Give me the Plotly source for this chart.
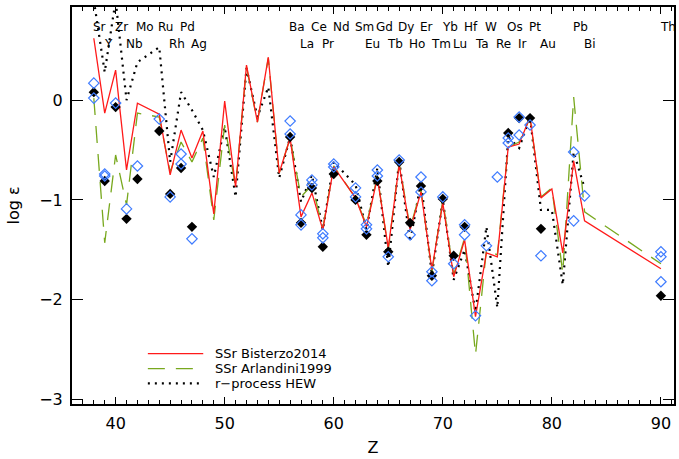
import plotly.graph_objects as go

# ---- data ----
Z_model = [38, 39, 40, 41, 42, 44, 45, 46, 47, 48, 49, 50, 51, 52, 53, 54, 55, 56, 57, 58,
           59, 60, 62, 63, 64, 65, 66, 67, 68, 69, 70, 71, 72, 73, 74, 75, 76, 77, 78, 79,
           80, 81, 82, 83, 90]
bisterzo2014 = [0.62, -0.13, 0.30, -0.70, -0.03, -0.14, -0.75, -0.30, -0.58, -0.31, -1.14, -0.01,
                -0.87, 0.35, -0.22, 0.43, -0.73, -0.38, -1.17, -0.93, -1.30, -0.67, -0.98, -1.27,
                -0.78, -1.48, -0.65, -1.30, -0.92, -1.70, -1.03, -1.77, -1.40, -2.17, -1.53, -1.57,
                -0.47, -0.44, -0.17, -0.98, -0.89, -1.53, -0.61, -1.21, -1.69]
arlandini1999 = [0.02, -1.43, -0.55, -1.05, -0.13, -0.17, -0.72, -0.42, -0.62, -0.38, -1.20, -0.25,
                 -0.87, 0.33, -0.22, 0.42, -0.73, -0.38, -0.97, -0.85, -1.28, -0.66, -0.98, -1.25,
                 -0.76, -1.50, -0.63, -1.28, -0.90, -1.72, -1.00, -1.75, -1.38, -2.55, -1.50, -1.55,
                 -0.47, -0.42, -0.18, -0.97, -0.88, -1.73, 0.03, -1.12, -1.64]

Z_hew = [38, 39, 40, 41, 42, 44, 45, 46, 47, 48, 49, 50, 51, 52, 53, 54, 55, 56, 57, 58,
         59, 60, 62, 63, 64, 65, 66, 67, 68, 69, 70, 71, 72, 73, 74, 75, 76, 77, 78, 79,
         80, 81, 82, 83]
hew = [1.0, 0.28, 1.0, 0.0, 0.38, 0.53, -0.62, 0.08, -0.10, -0.30, -0.77, -0.27, -0.97, 0.32,
       -0.17, 0.13, -0.78, -0.37, -1.02, -0.75, -1.30, -0.62, -0.85, -1.30, -0.68, -1.67, -0.60,
       -1.42, -0.82, -1.75, -1.00, -1.80, -1.50, -2.12, -1.27, -2.08, -0.37, -0.48, -0.17, -1.10,
       -1.10, -1.85, -0.52, -0.88]

Z_black = [38, 39, 40, 41, 42, 44, 45, 46, 47, 56, 57, 58, 59, 60, 62, 63, 64, 65, 66, 67,
           68, 69, 70, 71, 72, 76, 77, 78, 79, 90]
black_obs = [0.08, -0.81, -0.07, -1.19, -0.79, -0.31, -0.94, -0.68, -1.27, -0.37, -1.23, -0.88,
             -1.47, -0.74, -1.00, -1.35, -0.81, -1.52, -0.62, -1.23, -0.86, -1.76, -0.99, -1.56,
             -1.27, -0.33, -0.18, -0.18, -1.29, -1.96]

Z_blue = [38, 38, 39, 39, 40, 41, 42, 44, 45, 46, 46, 47, 56, 56, 57, 57, 58, 58, 59, 59,
          60, 60, 62, 62, 63, 63, 64, 64, 65, 66, 67, 68, 68, 69, 69, 70, 71, 72, 72, 73,
          74, 75, 76, 76, 77, 77, 78, 79, 82, 82, 83, 90, 90, 90]
blue_obs = [0.17, 0.02, -0.74, -0.76, -0.03, -1.09, -0.66, -0.19, -0.97, -0.54, -0.64, -1.39,
            -0.21, -0.34, -1.15, -1.25, -0.80, -0.85, -1.34, -1.38, -0.64, -0.67, -0.88, -0.97,
            -1.25, -1.29, -0.70, -0.76, -1.57, -0.60, -1.35, -0.77, -0.92, -1.72, -1.81, -0.97,
            -1.64, -1.25, -1.35, -2.16, -1.46, -0.77, -0.38, -0.43, -0.35, -0.17, -0.25, -1.56,
            -0.52, -1.21, -0.96, -1.52, -1.57, -1.82]

row1_names = ["Sr", "Zr", "Mo", "Ru", "Pd", "Ba", "Ce", "Nd", "Sm", "Gd", "Dy", "Er", "Yb",
              "Hf", "W", "Os", "Pt", "Pb", "Th"]
row1_Z = [38, 40, 42, 44, 46, 56, 58, 60, 62, 64, 66, 68, 70, 72, 74, 76, 78, 82, 90]
row2_names = ["Y", "Nb", "Rh", "Ag", "La", "Pr", "Eu", "Tb", "Ho", "Tm", "Lu", "Ta", "Re",
              "Ir", "Au", "Bi"]
row2_Z = [39, 41, 45, 47, 57, 59, 63, 65, 67, 69, 71, 73, 75, 77, 79, 83]

legend_names = ["SSr Bisterzo2014", "SSr Arlandini1999", "r\u2212process HEW"]

RED = "#ff1a1a"
GREEN = "#78a81e"
BLUE = "#3f7cff"
FONT = "DejaVu Sans"

red_line = dict(color=RED, width=1.3)
green_line = dict(color=GREEN, width=1.3, dash="17px,11px")
dot_line = dict(color="black", width=2.2, dash="2px,5px")

fig = go.Figure()
fig.add_trace(go.Scatter(x=Z_hew, y=hew, mode="lines", line=dot_line, showlegend=False))
fig.add_trace(go.Scatter(x=Z_model, y=arlandini1999, mode="lines", line=green_line, showlegend=False))
fig.add_trace(go.Scatter(x=Z_model, y=bisterzo2014, mode="lines", line=red_line, showlegend=False))
fig.add_trace(go.Scatter(x=Z_black, y=black_obs, mode="markers", showlegend=False,
                         marker=dict(symbol="diamond", size=8, color="black",
                                     line=dict(width=0))))
fig.add_trace(go.Scatter(x=Z_blue, y=blue_obs, mode="markers", showlegend=False,
                         marker=dict(symbol="diamond-open", size=8, color=BLUE,
                                     line=dict(width=1.2, color=BLUE))))

annotations = []
for name, z in zip(row1_names, row1_Z):
    annotations.append(dict(x=z, y=0.95, xref="x", yref="paper", text=name, showarrow=False,
                            xanchor="left", yanchor="middle", xshift=-3,
                            font=dict(family=FONT, size=12, color="black")))
for name, z in zip(row2_names, row2_Z):
    annotations.append(dict(x=z, y=0.907, xref="x", yref="paper", text=name, showarrow=False,
                            xanchor="left", yanchor="middle", xshift=-3,
                            font=dict(family=FONT, size=12, color="black")))

# legend drawn as lines + text in the lower-left
leg_y = [0.127, 0.089, 0.052]
leg_styles = [red_line, green_line, dot_line]
shapes = []
for name, yy, st in zip(legend_names, leg_y, leg_styles):
    shapes.append(dict(type="line", xref="paper", yref="paper", x0=0.126, x1=0.218,
                       y0=yy, y1=yy, line=st))
    annotations.append(dict(x=0.234, y=yy, xref="paper", yref="paper", text=name,
                            showarrow=False, xanchor="left", yanchor="middle",
                            font=dict(family=FONT, size=13, color="black")))

fig.update_layout(
    width=679, height=459,
    margin=dict(l=72, r=5, t=7, b=55, autoexpand=False),
    paper_bgcolor="white", plot_bgcolor="white",
    font=dict(family=FONT, color="black"),
    annotations=annotations, shapes=shapes,
    showlegend=False,
)
fig.update_xaxes(range=[36, 91.2], showgrid=False, zeroline=False, automargin=False,
                 showline=True, linecolor="black", linewidth=2, mirror="ticks",
                 ticks="inside", ticklen=7, tickwidth=1, tickcolor="black",
                 tickvals=[40, 50, 60, 70, 80, 90],
                 minor=dict(ticks="inside", dtick=1, ticklen=4, tickwidth=1, tickcolor="black",
                            showgrid=False),
                 tickfont=dict(family=FONT, size=16), ticklabelstandoff=4,
                 title=dict(text="Z", font=dict(family=FONT, size=16), standoff=10))
fig.update_yaxes(range=[-3.045, 0.933], showgrid=False, zeroline=False, automargin=False,
                 showline=True, linecolor="black", linewidth=2, mirror="ticks",
                 ticks="inside", ticklen=11, tickwidth=1, tickcolor="black",
                 tickvals=[-3, -2, -1, 0], ticktext=["\u22123", "\u22122", "\u22121", "0"],
                 tickfont=dict(family=FONT, size=16), ticklabelstandoff=4,
                 title=dict(text="log \u03b5", font=dict(family=FONT, size=16), standoff=16))

# remove the default page margin so the figure fills the window exactly
fig.write_html("out.html",
               config={"displayModeBar": False},
               post_script="document.body.style.margin='0px';document.body.style.overflow='hidden';")
